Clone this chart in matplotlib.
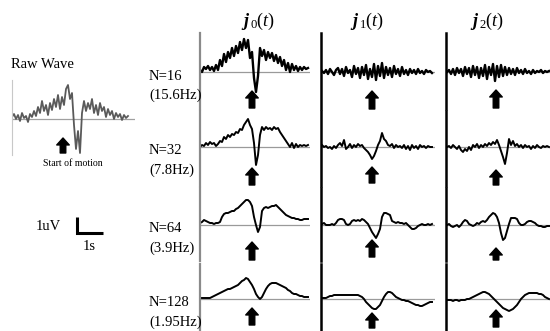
import numpy as np
import matplotlib
matplotlib.use('Agg')
import matplotlib.pyplot as plt

plt.rcParams['font.family'] = 'Liberation Serif'
plt.rcParams['mathtext.fontset'] = 'custom'
plt.rcParams['mathtext.rm'] = 'Liberation Serif'
plt.rcParams['mathtext.it'] = 'Liberation Serif:italic'
plt.rcParams['mathtext.bf'] = 'Liberation Serif:italic:bold'

# raw EEG-like trace (uV, arbitrary scale), start of motion at sample 25.5
raw_wave = [2, 5, 0, 4, -2, 6, 1, 3, -3, 5, 2, 8, 3, 12, 6, 18, 8, 14, 4, 16,
            9, 20, 12, 24, 10, 22, 14, 30, 34, 20, 26, -6, -30, -12, -34, 6, 18, 8, 16, 10,
            20, 6, 14, 4, 16, 8, 12, 2, 10, 4, 8, 0, 6, 2, 5, -1, 4, 1, 3]
raw_onset = 25.5

# decomposed components j0, j1, j2 for each window length N
j0_n16 = [2, 0, 5, 3, 6, 2, 5, 1, 7, 2, 12, 6, 18, 10, 20, 14, 24, 16, 26, 19,
          30, 22, 33, 24, 32, 14, 20, -6, -20, -4, 24, 16, 22, 12, 20, 14, 19, 11, 17, 9,
          15, 6, 12, 2, 9, 0, 8, 2, 6, 1, 5, 2, 5, 3, 4]
j1_n16 = [1, -1, 2, -2, 3, 0, -3, 2, 4, -2, 3, -4, 5, -1, 2, -5, 6, -2, 4, -6,
          5, -3, 7, -7, 3, -5, 8, -8, 6, -4, 9, -6, 5, -3, 4, -5, 6, -2, 3, -4,
          5, -2, 2, -3, 3, -1, 2, -2, 3, -1, 1, -2, 2, 0, 1, -1]
j2_n16 = [0, 2, -2, 3, -3, 4, -1, 3, -4, 5, -2, 4, -5, 6, -3, 5, -6, 4, -4, 7,
          -7, 5, -3, 8, -9, 6, -5, 7, -4, 5, -3, 4, -2, 3, -3, 4, -1, 2, -2, 3,
          -1, 1, -2, 2, -1, 1, 0, 2, -1, 1, 0, 1]

j0_n32 = [0, 2, 1, 4, 2, 5, 3, 4, 1, 3, 6, 5, 10, 8, 12, 10, 13, 12, 15, 14,
          18, 17, 22, 25, 28, 22, 18, 4, -18, -8, 12, 20, 17, 20, 18, 19, 17, 20, 18, 19,
          15, 12, 9, 6, 3, 0, 4, -1, 3, 0, 2, 1, 2, 1, 2]
j1_n32 = [2, 0, 1, -1, 0, -2, 1, -1, 2, 4, 1, 7, -2, 0, 3, -1, 2, 0, 3, 1,
          2, -1, -3, -5, -8, -12, -9, -4, 2, 6, 14, 8, 6, 2, 1, 3, -1, 2, 0, 1,
          -1, 2, -2, 1, -3, 2, -1, 1, -2, 2, 0, 1, -1, 1, 0, 0]
j2_n32 = [0, 1, -1, 2, 0, -2, 1, -3, -5, -2, -4, 0, -3, 2, 0, 3, -1, 2, 0, 3,
          1, 4, 2, 5, 3, 7, 2, -4, -10, -17, -6, 8, 2, 6, 1, 3, 0, 2, -1, 2,
          0, 1, -2, 1, -1, 2, 0, -1, 1, 0, 1, 0]

j0_n64 = [2, 3, 5, 4, 3, 2, 2, 1, 2, 2, 3, 8, 11, 12, 12, 13, 14, 14, 16, 17,
          19, 21, 23, 25, 25, 23, 19, 8, 0, -7, -2, 14, 17, 18, 17, 18, 19, 19, 20, 18,
          16, 14, 12, 10, 9, 8, 7, 7, 6, 6, 5, 5, 6, 6, 6]
j1_n64 = [1, 2, 0, 0, 0, 1, 0, 2, 5, 6, 6, 5, 1, 0, 1, 4, 5, 4, 5, 4,
          6, 5, 3, 1, -3, -7, -10, -13, -9, -4, 8, 12, 12, 11, 10, 4, 3, 2, 3, 2,
          2, 1, 2, 0, -2, -4, -4, -3, -1, 0, 1, 0, 0, 1, 0, 1]
j2_n64 = [0, 1, -1, -2, -1, 0, -2, 0, 3, 5, 4, 1, 0, -1, 0, 2, 1, 3, 4, 3,
          5, 8, 10, 12, 11, 8, 2, -8, -15, -13, -6, 1, 7, 7, 7, 6, 2, 0, 0, 1,
          3, 4, 4, 3, 2, 0, -1, -1, -2, -2, -1, -1]

j0_n128 = [1, 1, 1, 1, 1, 1, 2, 3, 4, 5, 6, 7, 8, 9, 10, 10, 11, 12, 13, 14,
           16, 18, 19, 21, 20, 17, 14, 10, 5, 2, 0, 2, 6, 10, 13, 15, 16, 16, 16, 15,
           14, 13, 12, 11, 9, 8, 6, 5, 5, 4, 3, 3, 2, 2, 2]
j1_n128 = [1, 1, 1, 2, 3, 3, 4, 4, 4, 4, 4, 4, 4, 4, 4, 4, 4, 4, 4, 3,
           2, 0, -3, -5, -7, -9, -10, -10, -8, -6, -2, 2, 5, 7, 7, 6, 4, 2, 1, 0,
           -1, -1, -2, -2, -3, -4, -5, -6, -6, -7, -7, -6, -5, -4, -3, -3]
j2_n128 = [-1, -1, -1, -2, -1, -1, -2, -1, -1, -1, 0, 0, 1, 2, 3, 4, 5, 6, 7, 7,
           6, 5, 3, 1, -1, -3, -5, -7, -9, -10, -11, -12, -11, -10, -8, -6, -3, 0, 2, 4,
           5, 6, 6, 6, 6, 6, 5, 5, 4, 2, 1, 0]

traces = [[j0_n16, j1_n16, j2_n16],
          [j0_n32, j1_n32, j2_n32],
          [j0_n64, j1_n64, j2_n64],
          [j0_n128, j1_n128, j2_n128]]
onsets = [26, 25, 24.5]

row_n = ['N=16', 'N=32', 'N=64', 'N=128']
row_hz = ['(15.6Hz)', '(7.8Hz)', '(3.9Hz)', '(1.95Hz)']
col_titles = [r'$\mathbf{j}_{\,0}(\mathit{t})$',
              r'$\mathbf{j}_{\,1}(\mathit{t})$',
              r'$\mathbf{j}_{\,2}(\mathit{t})$']

W, H = 550, 331
fig = plt.figure(figsize=(W / 100, H / 100), dpi=100)


def box(x0, y0, x1, y1):
    return [x0 / W, 1 - y1 / H, (x1 - x0) / W, (y1 - y0) / H]


def arrow(ax, x, tip, tail):
    ax.annotate('', xy=(x, tip), xytext=(x, tail), annotation_clip=False,
                arrowprops=dict(facecolor='black', edgecolor='black', width=4,
                                headwidth=9, headlength=5, shrink=0))


# (top, baseline, bottom) in pixels for each row, arrow tip/tail offsets
rows = [(33, 72, 109), (111, 147, 186), (188, 225, 261), (264, 299, 331)]
arrow_y = [[(-19, -36), (-19, -37), (-18, -36)],
           [(-21, -38), (-20, -36), (-23, -38)],
           [(-17, -35), (-15, -32), (-23, -35)],
           [(-9, -26), (-14, -29), (-11, -28)]]
cols = [(200, 310, (0, 55), '#8a8a8a', 1.6),
        (321, 435, (-0.5, 56.5), 'black', 1.8),
        (446, 550, (-0.5, 51.5), 'black', 1.8)]

for r, (top, base, bot) in enumerate(rows):
    for c, (x0, x1, xl, spine_col, spine_w) in enumerate(cols):
        ax = fig.add_axes(box(x0, top, x1, bot))
        y = traces[r][c]
        ax.axhline(0, color='#9a9a9a', lw=0.9, zorder=1)
        ax.plot(np.arange(len(y)), y, color='black',
                lw=1.7 if r == 0 else 1.4, zorder=2)
        ax.set_xlim(*xl)
        ax.set_ylim(-(bot - base), base - top)
        for s in ['top', 'right', 'bottom']:
            ax.spines[s].set_visible(False)
        ax.spines['left'].set_color(spine_col)
        ax.spines['left'].set_linewidth(spine_w)
        ax.set_xticks([])
        ax.set_yticks([])
        ax.patch.set_alpha(0)
        arrow(ax, onsets[c], *arrow_y[r][c])
    fig.text(149 / W, 1 - (base + 4) / H, row_n[r], fontsize=10.5, va='center', ha='left')
    fig.text(149 / W, 1 - (base + 23) / H, row_hz[r], fontsize=10.5, va='center', ha='left')

for c, xc in enumerate([258, 367, 487]):
    fig.text(xc / W, 1 - 21 / H, col_titles[c], fontsize=13, ha='center', va='center')

# raw wave
ax = fig.add_axes(box(12, 80, 135, 155))
ax.axhline(0, color='#a0a0a0', lw=0.9, zorder=1)
ax.plot(np.arange(len(raw_wave)), raw_wave, color='#5a5a5a', lw=1.3, zorder=2)
ax.set_xlim(0, 61.5)
ax.set_ylim(-36, 39)
for s in ['top', 'right', 'bottom']:
    ax.spines[s].set_visible(False)
ax.spines['left'].set_color('#c8c8c8')
ax.set_xticks([])
ax.set_yticks([])
ax.patch.set_alpha(0)
arrow(ax, raw_onset, -19, -34)
fig.text(11 / W, 1 - 65 / H, 'Raw Wave', fontsize=10.5, va='center', ha='left')
fig.text(73 / W, 1 - 164 / H, 'Start of motion', fontsize=7, va='center', ha='center')

# scale bar: 1 uV x 1 s
sb = fig.add_axes(box(77, 217, 103, 233))
sb.plot([0, 0, 1], [1, 0, 0], color='black', lw=2.2, solid_joinstyle='miter',
        solid_capstyle='butt', clip_on=False)
sb.set_xlim(0, 1)
sb.set_ylim(0, 1)
sb.axis('off')
fig.text(48 / W, 1 - 226 / H, '1uV', fontsize=10.5, va='center', ha='center')
fig.text(89 / W, 1 - 247 / H, '1s', fontsize=10.5, va='center', ha='center')

fig.savefig('out.png', dpi=100)
